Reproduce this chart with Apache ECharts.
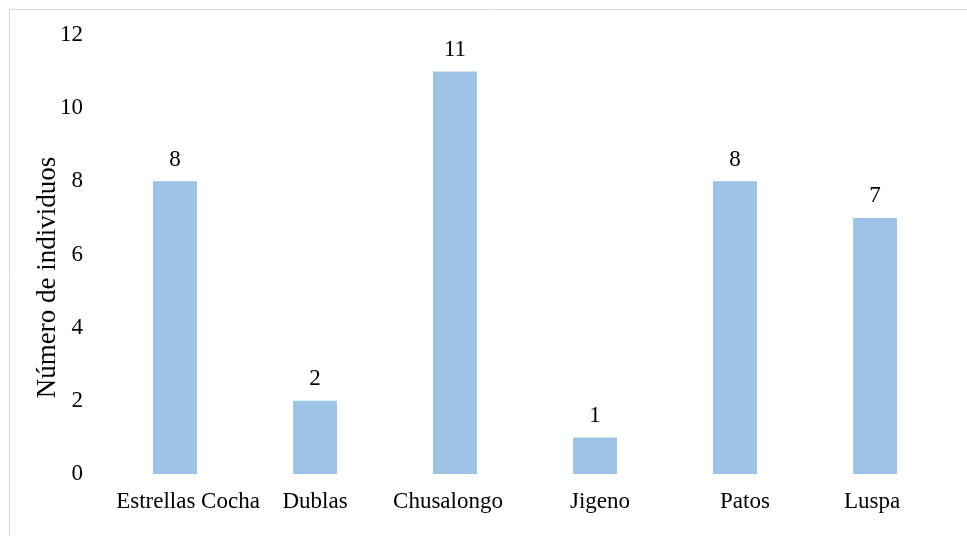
<!DOCTYPE html>
<html>
<head>
<meta charset="utf-8">
<script src="https://cdn.jsdelivr.net/npm/echarts@6/dist/echarts.min.js"></script>
<style>
  html, body { margin: 0; padding: 0; background: #fff; }
  #chart { width: 967px; height: 536px; }
</style>
</head>
<body>
<div id="chart"></div>
<script>
// Individuals counted per site
const categories = ['Estrellas Cocha', 'Dublas', 'Chusalongo', 'Jigeno', 'Patos', 'Luspa'];
const counts = [8, 2, 11, 1, 8, 7];
const yAxisTitle = 'Número de individuos';

const serif = '"Liberation Serif", "DejaVu Serif", serif';

// horizontal nudge (px) for each category label
const labelNudge = [13, 0, -7, 5, 10, -3];

const xLabels = categories.map((name, i) => {
  const d = labelNudge[i];
  return {
    value: name,
    textStyle: { padding: d >= 0 ? [0, 0, 0, 2 * d] : [0, -2 * d, 0, 0] }
  };
});

const chart = echarts.init(document.getElementById('chart'), null, { renderer: 'canvas' });
chart.setOption({
  animation: false,
  backgroundColor: '#ffffff',
  graphic: [{
    type: 'rect',
    shape: { x: 9.5, y: 9.5, width: 1000, height: 600 },
    style: { fill: 'none', stroke: '#d9d9d9', lineWidth: 1 },
    silent: true
  }],
  grid: { left: 105, right: 22, top: 35, bottom: 62 },
  xAxis: {
    type: 'category',
    data: xLabels,
    axisLine: { show: false },
    axisTick: { show: false },
    axisLabel: { color: '#000', fontFamily: serif, fontSize: 23, margin: 16, interval: 0 }
  },
  yAxis: {
    type: 'value',
    min: 0, max: 12, interval: 2,
    name: yAxisTitle,
    nameLocation: 'middle',
    nameGap: 44,
    nameMoveOverlap: false,
    nameTextStyle: { color: '#000', fontFamily: serif, fontSize: 27, padding: [0, 46, 0, 0] },
    axisLine: { show: false },
    axisTick: { show: false },
    splitLine: { show: false },
    axisLabel: { color: '#000', fontFamily: serif, fontSize: 23, margin: 22 }
  },
  series: [{
    type: 'bar',
    data: counts,
    barWidth: 44,
    itemStyle: { color: '#9dc3e6' },
    label: {
      show: true, position: 'top', distance: 10,
      color: '#000', fontFamily: serif, fontSize: 23
    }
  }]
});
</script>
</body>
</html>
